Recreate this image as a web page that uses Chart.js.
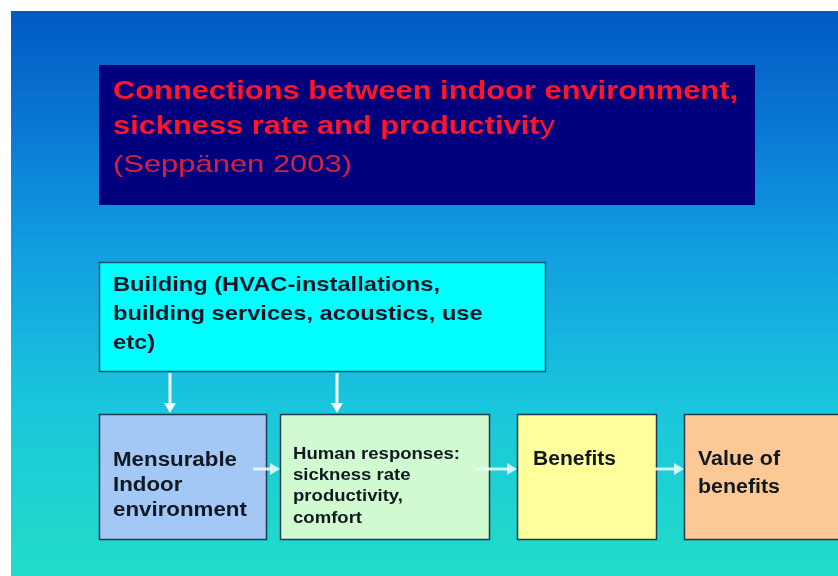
<!DOCTYPE html>
<html><head><meta charset="utf-8">
<script src="https://cdn.jsdelivr.net/npm/chart.js@4.4.1/dist/chart.umd.min.js"></script>
<style>html,body{margin:0;padding:0;background:#fff;}#wrap{width:838px;height:576px;}</style>
</head><body><div id="wrap"><canvas id="c" width="838" height="576"></canvas></div>
<script>
// Diagram content
const titleLines = ["Connections between indoor environment,", "sickness rate and productivit"];
const titleTail = "y";
const subtitle = "(Seppänen 2003)";
const buildingLines = ["Building (HVAC-installations,", "building services, acoustics, use", "etc)"];
const stepLabels = [
  ["Mensurable", "Indoor", "environment"],
  ["Human responses:", "sickness rate", "productivity,", "comfort"],
  ["Benefits"],
  ["Value of", "benefits"]
];
const stepColors = ["#a4c8f6", "#d2fad0", "#ffff9c", "#fcc896"];

// Layout (diagram units = pixels of the 838x576 sheet)
const L = {
  bg: [11, 11, 838, 576],
  title: [99, 65, 755, 205],
  building: [99, 262, 546, 372],
  steps: [[99, 414, 267, 540], [280, 414, 490, 540], [517, 414, 657, 540], [684, 414, 842, 540]],
  down: [[170, 373, 413], [337, 373, 413]],
  right: [[253, 280, 469], [476, 517, 469], [655, 684, 469]]
};
// text styles: [font, first-line target width, baselines (offsets from box top), x offset]
const T = {
  title: { font: 'bold 26.5px "Liberation Sans", Arial, sans-serif', w: 625, base: [34, 69], dx: 14 },
  sub: { font: '24px "Liberation Sans", Arial, sans-serif', w: 239, base: 107, dx: 14 },
  building: { font: 'bold 20.5px "Liberation Sans", Arial, sans-serif', w: 327, base: [29, 58, 87], dx: 14 },
  steps: [
    { font: 'bold 20px "Liberation Sans", Arial, sans-serif', w: 124, base: [52, 77, 102], dx: 14 },
    { font: 'bold 16.5px "Liberation Sans", Arial, sans-serif', w: 167, base: [45, 65.5, 86.5, 109], dx: 13 },
    { font: 'bold 20px "Liberation Sans", Arial, sans-serif', w: 83, base: [51], dx: 16 },
    { font: 'bold 20px "Liberation Sans", Arial, sans-serif', w: 82, base: [51, 79], dx: 14 }
  ]
};

const diagram = {
  id: 'diagram',
  beforeDraw(chart) {
    const ctx = chart.ctx, xs = chart.scales.x, ys = chart.scales.y;
    const X = v => xs.getPixelForValue(v), Y = v => ys.getPixelForValue(v);
    ctx.save();
    ctx.fillStyle = '#ffffff';
    ctx.fillRect(0, 0, chart.width, chart.height);
    const [bx0, by0, bx1, by1] = L.bg;
    const g = ctx.createLinearGradient(0, Y(by0), 0, Y(by1));
    g.addColorStop(0, '#005ac2');
    g.addColorStop(0.22, '#0a7ad6');
    g.addColorStop(0.45, '#12a2e0');
    g.addColorStop(0.7, '#1ac6dc');
    g.addColorStop(1, '#22dcc8');
    ctx.fillStyle = g;
    ctx.fillRect(X(bx0), Y(by0), X(bx1) - X(bx0), Y(by1) - Y(by0));

    function box(r, fill, stroke) {
      const x0 = X(r[0]), y0 = Y(r[1]), x1 = X(r[2]), y1 = Y(r[3]);
      ctx.fillStyle = fill;
      ctx.fillRect(x0, y0, x1 - x0, y1 - y0);
      if (stroke) {
        ctx.strokeStyle = stroke; ctx.lineWidth = 1.5;
        ctx.strokeRect(x0 + 0.5, y0 + 0.5, x1 - x0 - 1, y1 - y0 - 1);
      }
      return [x0, y0];
    }
    // draw lines with a horizontal stretch so the first line reaches width w
    function textBlock(lines, st, x, y) {
      ctx.font = st.font;
      const k = st.w / ctx.measureText(lines[0]).width;
      lines.forEach((s, i) => {
        ctx.save();
        ctx.translate(x + st.dx, y + st.base[i]);
        ctx.scale(k, 1);
        ctx.fillText(s, 0, 0);
        ctx.restore();
      });
      return k;
    }
    // title
    let [tx, ty] = box(L.title, '#00007e', null);
    ctx.textBaseline = 'alphabetic';
    ctx.fillStyle = '#ff1428';
    const k = textBlock(titleLines, T.title, tx, ty);
    ctx.font = T.title.font;
    const w = ctx.measureText(titleLines[1]).width * k;
    ctx.save();
    ctx.translate(tx + T.title.dx + w, ty + T.title.base[1]);
    ctx.scale(k, 1);
    ctx.font = T.title.font.replace('bold ', '');
    ctx.fillText(titleTail, 0, 0);
    ctx.restore();
    ctx.fillStyle = '#d8203e';
    textBlock([subtitle], { ...T.sub, base: [T.sub.base] }, tx, ty);

    // building
    let [hx, hy] = box(L.building, '#00ffff', '#20506a');
    ctx.fillStyle = '#101828';
    textBlock(buildingLines, T.building, hx, hy);

    // steps
    L.steps.forEach((r, i) => {
      const [sx, sy] = box(r, stepColors[i], '#1c3a50');
      ctx.fillStyle = '#101820';
      textBlock(stepLabels[i], T.steps[i], sx, sy);
    });

    // arrows
    ctx.strokeStyle = '#f0fbff'; ctx.fillStyle = '#f0fbff'; ctx.lineWidth = 3;
    L.down.forEach(([x, a, b]) => {
      ctx.beginPath(); ctx.moveTo(X(x), Y(a)); ctx.lineTo(X(x), Y(b) - 8); ctx.stroke();
      ctx.beginPath(); ctx.moveTo(X(x) - 6, Y(b) - 10); ctx.lineTo(X(x) + 6, Y(b) - 10); ctx.lineTo(X(x), Y(b)); ctx.closePath(); ctx.fill();
    });
    ctx.globalAlpha = 0.85;
    L.right.forEach(([a, b, y]) => {
      ctx.beginPath(); ctx.moveTo(X(a), Y(y)); ctx.lineTo(X(b) - 8, Y(y)); ctx.stroke();
      ctx.beginPath(); ctx.moveTo(X(b) - 10, Y(y) - 6); ctx.lineTo(X(b) - 10, Y(y) + 6); ctx.lineTo(X(b), Y(y)); ctx.closePath(); ctx.fill();
    });
    ctx.restore();
  }
};

new Chart(document.getElementById('c'), {
  type: 'scatter',
  data: { datasets: [{ data: [], pointRadius: 0 }] },
  options: {
    responsive: false, animation: false,
    layout: { padding: 0 },
    plugins: { legend: { display: false }, tooltip: { enabled: false } },
    scales: {
      x: { type: 'linear', min: 0, max: 838, display: false },
      y: { type: 'linear', min: 0, max: 576, reverse: true, display: false }
    }
  },
  plugins: [diagram]
});
</script>
</body></html>
